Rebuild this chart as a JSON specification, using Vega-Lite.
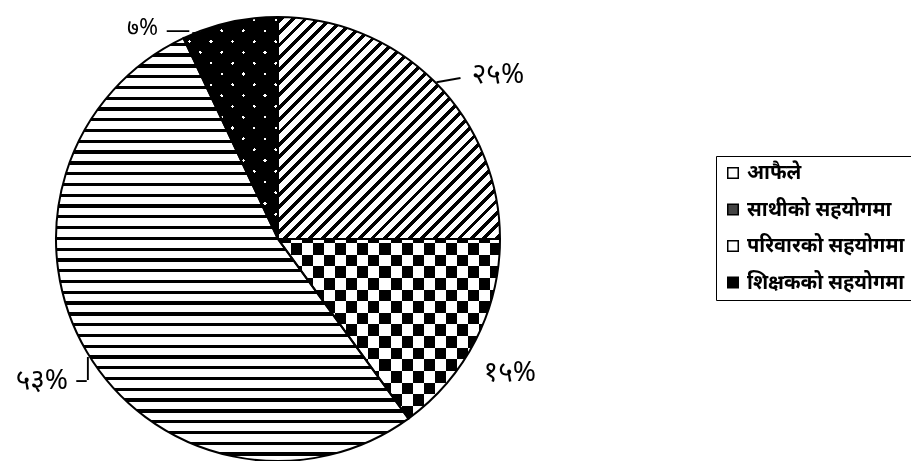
{
  "$schema": "https://vega.github.io/schema/vega-lite/v6.json",
  "autosize": "none",
  "width": 444,
  "height": 444,
  "padding": {"left": 56, "top": 17, "right": 411, "bottom": 0},
  "background": "white",
  "config": {"view": {"stroke": null}},
  "data": {"values": [
    {"cat": "आफैले", "value": 25, "label": "२५%", "o": 1},
    {"cat": "साथीको सहयोगमा", "value": 15, "label": "१५%", "o": 2},
    {"cat": "परिवारको सहयोगमा", "value": 53, "label": "५३%", "o": 3},
    {"cat": "शिक्षकको सहयोगमा", "value": 7, "label": "७%", "o": 4}
  ]},
  "encoding": {
    "theta": {"field": "value", "type": "quantitative", "stack": true},
    "order": {"field": "o", "type": "quantitative"}
  },
  "layer": [
    {
      "mark": {"type": "arc", "outerRadius": 222},
      "encoding": {
        "color": {"field": "cat", "type": "nominal",
          "scale": {"domain": ["आफैले", "साथीको सहयोगमा", "परिवारको सहयोगमा", "शिक्षकको सहयोगमा"], "range": ["#ffffff", "#444444", "#ffffff", "#000000"]},
          "legend": {"orient": "none", "legendX": 660, "legendY": 139, "title": null, "strokeColor": "black", "fillColor": "white", "padding": 7,
            "symbolType": "square", "symbolSize": 110, "symbolStrokeColor": "black", "symbolStrokeWidth": 1.5, "symbolOpacity": 1,
            "labelFont": "Noto Sans", "labelFontSize": 20, "labelFontWeight": "bold", "labelColor": "black", "rowPadding": 16.5, "labelOffset": 4, "labelLimit": 400,
            "labelExpr": "datum.label + '            \u200b'"}
        }
      }
    },
    {
      "mark": {"type": "arc", "outerRadius": 222, "strokeWidth": 0},
      "encoding": {
        "fill": {
          "condition": [
            {"test": "datum.o === 1", "value": {"gradient": "linear", "x1": 0, "y1": 0, "x2": 1, "y2": 1, "stops": [
              {"offset":0.005,"color":"#fff"},{"offset":0.005,"color":"#000"},{"offset":0.016,"color":"#000"},{"offset":0.016,"color":"#fff"},
              {"offset":0.033,"color":"#fff"},{"offset":0.033,"color":"#000"},{"offset":0.044,"color":"#000"},{"offset":0.044,"color":"#fff"},
              {"offset":0.061,"color":"#fff"},{"offset":0.061,"color":"#000"},{"offset":0.072,"color":"#000"},{"offset":0.072,"color":"#fff"},
              {"offset":0.089,"color":"#fff"},{"offset":0.089,"color":"#000"},{"offset":0.1,"color":"#000"},{"offset":0.1,"color":"#fff"},
              {"offset":0.117,"color":"#fff"},{"offset":0.117,"color":"#000"},{"offset":0.128,"color":"#000"},{"offset":0.128,"color":"#fff"},
              {"offset":0.145,"color":"#fff"},{"offset":0.145,"color":"#000"},{"offset":0.156,"color":"#000"},{"offset":0.156,"color":"#fff"},
              {"offset":0.173,"color":"#fff"},{"offset":0.173,"color":"#000"},{"offset":0.184,"color":"#000"},{"offset":0.184,"color":"#fff"},
              {"offset":0.201,"color":"#fff"},{"offset":0.201,"color":"#000"},{"offset":0.212,"color":"#000"},{"offset":0.212,"color":"#fff"},
              {"offset":0.229,"color":"#fff"},{"offset":0.229,"color":"#000"},{"offset":0.24,"color":"#000"},{"offset":0.24,"color":"#fff"},
              {"offset":0.257,"color":"#fff"},{"offset":0.257,"color":"#000"},{"offset":0.268,"color":"#000"},{"offset":0.268,"color":"#fff"},
              {"offset":0.285,"color":"#fff"},{"offset":0.285,"color":"#000"},{"offset":0.296,"color":"#000"},{"offset":0.296,"color":"#fff"},
              {"offset":0.313,"color":"#fff"},{"offset":0.313,"color":"#000"},{"offset":0.324,"color":"#000"},{"offset":0.324,"color":"#fff"},
              {"offset":0.341,"color":"#fff"},{"offset":0.341,"color":"#000"},{"offset":0.352,"color":"#000"},{"offset":0.352,"color":"#fff"},
              {"offset":0.369,"color":"#fff"},{"offset":0.369,"color":"#000"},{"offset":0.38,"color":"#000"},{"offset":0.38,"color":"#fff"},
              {"offset":0.397,"color":"#fff"},{"offset":0.397,"color":"#000"},{"offset":0.408,"color":"#000"},{"offset":0.408,"color":"#fff"},
              {"offset":0.425,"color":"#fff"},{"offset":0.425,"color":"#000"},{"offset":0.436,"color":"#000"},{"offset":0.436,"color":"#fff"},
              {"offset":0.453,"color":"#fff"},{"offset":0.453,"color":"#000"},{"offset":0.464,"color":"#000"},{"offset":0.464,"color":"#fff"},
              {"offset":0.481,"color":"#fff"},{"offset":0.481,"color":"#000"},{"offset":0.492,"color":"#000"},{"offset":0.492,"color":"#fff"},
              {"offset":0.509,"color":"#fff"},{"offset":0.509,"color":"#000"},{"offset":0.52,"color":"#000"},{"offset":0.52,"color":"#fff"},
              {"offset":0.537,"color":"#fff"},{"offset":0.537,"color":"#000"},{"offset":0.548,"color":"#000"},{"offset":0.548,"color":"#fff"},
              {"offset":0.565,"color":"#fff"},{"offset":0.565,"color":"#000"},{"offset":0.576,"color":"#000"},{"offset":0.576,"color":"#fff"},
              {"offset":0.593,"color":"#fff"},{"offset":0.593,"color":"#000"},{"offset":0.604,"color":"#000"},{"offset":0.604,"color":"#fff"},
              {"offset":0.621,"color":"#fff"},{"offset":0.621,"color":"#000"},{"offset":0.632,"color":"#000"},{"offset":0.632,"color":"#fff"},
              {"offset":0.649,"color":"#fff"},{"offset":0.649,"color":"#000"},{"offset":0.66,"color":"#000"},{"offset":0.66,"color":"#fff"},
              {"offset":0.677,"color":"#fff"},{"offset":0.677,"color":"#000"},{"offset":0.688,"color":"#000"},{"offset":0.688,"color":"#fff"},
              {"offset":0.705,"color":"#fff"},{"offset":0.705,"color":"#000"},{"offset":0.716,"color":"#000"},{"offset":0.716,"color":"#fff"},
              {"offset":0.733,"color":"#fff"},{"offset":0.733,"color":"#000"},{"offset":0.744,"color":"#000"},{"offset":0.744,"color":"#fff"},
              {"offset":0.761,"color":"#fff"},{"offset":0.761,"color":"#000"},{"offset":0.772,"color":"#000"},{"offset":0.772,"color":"#fff"},
              {"offset":0.789,"color":"#fff"},{"offset":0.789,"color":"#000"},{"offset":0.8,"color":"#000"},{"offset":0.8,"color":"#fff"},
              {"offset":0.817,"color":"#fff"},{"offset":0.817,"color":"#000"},{"offset":0.828,"color":"#000"},{"offset":0.828,"color":"#fff"},
              {"offset":0.845,"color":"#fff"},{"offset":0.845,"color":"#000"},{"offset":0.856,"color":"#000"},{"offset":0.856,"color":"#fff"},
              {"offset":0.873,"color":"#fff"},{"offset":0.873,"color":"#000"},{"offset":0.884,"color":"#000"},{"offset":0.884,"color":"#fff"},
              {"offset":0.901,"color":"#fff"},{"offset":0.901,"color":"#000"},{"offset":0.912,"color":"#000"},{"offset":0.912,"color":"#fff"},
              {"offset":0.929,"color":"#fff"},{"offset":0.929,"color":"#000"},{"offset":0.94,"color":"#000"},{"offset":0.94,"color":"#fff"},
              {"offset":0.957,"color":"#fff"},{"offset":0.957,"color":"#000"},{"offset":0.968,"color":"#000"},{"offset":0.968,"color":"#fff"},
              {"offset":0.985,"color":"#fff"},{"offset":0.985,"color":"#000"},{"offset":0.996,"color":"#000"},{"offset":0.996,"color":"#fff"}
            ]}},
            {"test": "datum.o === 2", "value": {"gradient": "linear", "x1": 0, "y1": 0, "x2": 1, "y2": 0, "stops": [
              {"offset":0.007,"color":"#fff"},{"offset":0.007,"color":"#000"},{"offset":0.057,"color":"#000"},{"offset":0.057,"color":"#fff"},
              {"offset":0.107,"color":"#fff"},{"offset":0.107,"color":"#000"},{"offset":0.157,"color":"#000"},{"offset":0.157,"color":"#fff"},
              {"offset":0.207,"color":"#fff"},{"offset":0.207,"color":"#000"},{"offset":0.257,"color":"#000"},{"offset":0.257,"color":"#fff"},
              {"offset":0.307,"color":"#fff"},{"offset":0.307,"color":"#000"},{"offset":0.357,"color":"#000"},{"offset":0.357,"color":"#fff"},
              {"offset":0.407,"color":"#fff"},{"offset":0.407,"color":"#000"},{"offset":0.457,"color":"#000"},{"offset":0.457,"color":"#fff"},
              {"offset":0.507,"color":"#fff"},{"offset":0.507,"color":"#000"},{"offset":0.557,"color":"#000"},{"offset":0.557,"color":"#fff"},
              {"offset":0.607,"color":"#fff"},{"offset":0.607,"color":"#000"},{"offset":0.657,"color":"#000"},{"offset":0.657,"color":"#fff"},
              {"offset":0.707,"color":"#fff"},{"offset":0.707,"color":"#000"},{"offset":0.757,"color":"#000"},{"offset":0.757,"color":"#fff"},
              {"offset":0.807,"color":"#fff"},{"offset":0.807,"color":"#000"},{"offset":0.857,"color":"#000"},{"offset":0.857,"color":"#fff"},
              {"offset":0.907,"color":"#fff"},{"offset":0.907,"color":"#000"},{"offset":0.957,"color":"#000"},{"offset":0.957,"color":"#fff"}
            ]}},
            {"test": "datum.o === 3", "value": {"gradient": "linear", "x1": 0, "y1": 0, "x2": 0, "y2": 1, "stops": [
              {"offset":0.0107,"color":"#fff"},{"offset":0.0107,"color":"#000"},{"offset":0.0185,"color":"#000"},{"offset":0.0185,"color":"#fff"},
              {"offset":0.0362,"color":"#fff"},{"offset":0.0362,"color":"#000"},{"offset":0.0440,"color":"#000"},{"offset":0.0440,"color":"#fff"},
              {"offset":0.0617,"color":"#fff"},{"offset":0.0617,"color":"#000"},{"offset":0.0695,"color":"#000"},{"offset":0.0695,"color":"#fff"},
              {"offset":0.0872,"color":"#fff"},{"offset":0.0872,"color":"#000"},{"offset":0.0950,"color":"#000"},{"offset":0.0950,"color":"#fff"},
              {"offset":0.1127,"color":"#fff"},{"offset":0.1127,"color":"#000"},{"offset":0.1205,"color":"#000"},{"offset":0.1205,"color":"#fff"},
              {"offset":0.1382,"color":"#fff"},{"offset":0.1382,"color":"#000"},{"offset":0.1460,"color":"#000"},{"offset":0.1460,"color":"#fff"},
              {"offset":0.1637,"color":"#fff"},{"offset":0.1637,"color":"#000"},{"offset":0.1715,"color":"#000"},{"offset":0.1715,"color":"#fff"},
              {"offset":0.1892,"color":"#fff"},{"offset":0.1892,"color":"#000"},{"offset":0.1970,"color":"#000"},{"offset":0.1970,"color":"#fff"},
              {"offset":0.2147,"color":"#fff"},{"offset":0.2147,"color":"#000"},{"offset":0.2225,"color":"#000"},{"offset":0.2225,"color":"#fff"},
              {"offset":0.2402,"color":"#fff"},{"offset":0.2402,"color":"#000"},{"offset":0.2480,"color":"#000"},{"offset":0.2480,"color":"#fff"},
              {"offset":0.2657,"color":"#fff"},{"offset":0.2657,"color":"#000"},{"offset":0.2735,"color":"#000"},{"offset":0.2735,"color":"#fff"},
              {"offset":0.2912,"color":"#fff"},{"offset":0.2912,"color":"#000"},{"offset":0.2990,"color":"#000"},{"offset":0.2990,"color":"#fff"},
              {"offset":0.3167,"color":"#fff"},{"offset":0.3167,"color":"#000"},{"offset":0.3245,"color":"#000"},{"offset":0.3245,"color":"#fff"},
              {"offset":0.3422,"color":"#fff"},{"offset":0.3422,"color":"#000"},{"offset":0.3500,"color":"#000"},{"offset":0.3500,"color":"#fff"},
              {"offset":0.3677,"color":"#fff"},{"offset":0.3677,"color":"#000"},{"offset":0.3755,"color":"#000"},{"offset":0.3755,"color":"#fff"},
              {"offset":0.3932,"color":"#fff"},{"offset":0.3932,"color":"#000"},{"offset":0.4010,"color":"#000"},{"offset":0.4010,"color":"#fff"},
              {"offset":0.4187,"color":"#fff"},{"offset":0.4187,"color":"#000"},{"offset":0.4265,"color":"#000"},{"offset":0.4265,"color":"#fff"},
              {"offset":0.4442,"color":"#fff"},{"offset":0.4442,"color":"#000"},{"offset":0.4520,"color":"#000"},{"offset":0.4520,"color":"#fff"},
              {"offset":0.4697,"color":"#fff"},{"offset":0.4697,"color":"#000"},{"offset":0.4775,"color":"#000"},{"offset":0.4775,"color":"#fff"},
              {"offset":0.4952,"color":"#fff"},{"offset":0.4952,"color":"#000"},{"offset":0.5030,"color":"#000"},{"offset":0.5030,"color":"#fff"},
              {"offset":0.5207,"color":"#fff"},{"offset":0.5207,"color":"#000"},{"offset":0.5285,"color":"#000"},{"offset":0.5285,"color":"#fff"},
              {"offset":0.5462,"color":"#fff"},{"offset":0.5462,"color":"#000"},{"offset":0.5540,"color":"#000"},{"offset":0.5540,"color":"#fff"},
              {"offset":0.5717,"color":"#fff"},{"offset":0.5717,"color":"#000"},{"offset":0.5795,"color":"#000"},{"offset":0.5795,"color":"#fff"},
              {"offset":0.5972,"color":"#fff"},{"offset":0.5972,"color":"#000"},{"offset":0.6050,"color":"#000"},{"offset":0.6050,"color":"#fff"},
              {"offset":0.6227,"color":"#fff"},{"offset":0.6227,"color":"#000"},{"offset":0.6305,"color":"#000"},{"offset":0.6305,"color":"#fff"},
              {"offset":0.6482,"color":"#fff"},{"offset":0.6482,"color":"#000"},{"offset":0.6560,"color":"#000"},{"offset":0.6560,"color":"#fff"},
              {"offset":0.6737,"color":"#fff"},{"offset":0.6737,"color":"#000"},{"offset":0.6815,"color":"#000"},{"offset":0.6815,"color":"#fff"},
              {"offset":0.6992,"color":"#fff"},{"offset":0.6992,"color":"#000"},{"offset":0.7070,"color":"#000"},{"offset":0.7070,"color":"#fff"},
              {"offset":0.7247,"color":"#fff"},{"offset":0.7247,"color":"#000"},{"offset":0.7325,"color":"#000"},{"offset":0.7325,"color":"#fff"},
              {"offset":0.7502,"color":"#fff"},{"offset":0.7502,"color":"#000"},{"offset":0.7580,"color":"#000"},{"offset":0.7580,"color":"#fff"},
              {"offset":0.7757,"color":"#fff"},{"offset":0.7757,"color":"#000"},{"offset":0.7835,"color":"#000"},{"offset":0.7835,"color":"#fff"},
              {"offset":0.8012,"color":"#fff"},{"offset":0.8012,"color":"#000"},{"offset":0.8090,"color":"#000"},{"offset":0.8090,"color":"#fff"},
              {"offset":0.8267,"color":"#fff"},{"offset":0.8267,"color":"#000"},{"offset":0.8345,"color":"#000"},{"offset":0.8345,"color":"#fff"},
              {"offset":0.8522,"color":"#fff"},{"offset":0.8522,"color":"#000"},{"offset":0.8600,"color":"#000"},{"offset":0.8600,"color":"#fff"},
              {"offset":0.8777,"color":"#fff"},{"offset":0.8777,"color":"#000"},{"offset":0.8855,"color":"#000"},{"offset":0.8855,"color":"#fff"},
              {"offset":0.9032,"color":"#fff"},{"offset":0.9032,"color":"#000"},{"offset":0.9110,"color":"#000"},{"offset":0.9110,"color":"#fff"},
              {"offset":0.9287,"color":"#fff"},{"offset":0.9287,"color":"#000"},{"offset":0.9365,"color":"#000"},{"offset":0.9365,"color":"#fff"},
              {"offset":0.9542,"color":"#fff"},{"offset":0.9542,"color":"#000"},{"offset":0.9620,"color":"#000"},{"offset":0.9620,"color":"#fff"},
              {"offset":0.9797,"color":"#fff"},{"offset":0.9797,"color":"#000"},{"offset":0.9875,"color":"#000"},{"offset":0.9875,"color":"#fff"}
            ]}}
          ],
          "value": {"gradient": "linear", "x1": 0, "y1": 1, "x2": 0.514, "y2": -0.208, "stops": [
            {"offset":0.0225,"color":"#000"},{"offset":0.0225,"color":"#fff"},{"offset":0.0335,"color":"#fff"},{"offset":0.0335,"color":"#000"},
            {"offset":0.0907,"color":"#000"},{"offset":0.0907,"color":"#fff"},{"offset":0.1017,"color":"#fff"},{"offset":0.1017,"color":"#000"},
            {"offset":0.1589,"color":"#000"},{"offset":0.1589,"color":"#fff"},{"offset":0.1699,"color":"#fff"},{"offset":0.1699,"color":"#000"},
            {"offset":0.2271,"color":"#000"},{"offset":0.2271,"color":"#fff"},{"offset":0.2381,"color":"#fff"},{"offset":0.2381,"color":"#000"},
            {"offset":0.2953,"color":"#000"},{"offset":0.2953,"color":"#fff"},{"offset":0.3063,"color":"#fff"},{"offset":0.3063,"color":"#000"},
            {"offset":0.3635,"color":"#000"},{"offset":0.3635,"color":"#fff"},{"offset":0.3745,"color":"#fff"},{"offset":0.3745,"color":"#000"},
            {"offset":0.4317,"color":"#000"},{"offset":0.4317,"color":"#fff"},{"offset":0.4427,"color":"#fff"},{"offset":0.4427,"color":"#000"},
            {"offset":0.4999,"color":"#000"},{"offset":0.4999,"color":"#fff"},{"offset":0.5109,"color":"#fff"},{"offset":0.5109,"color":"#000"},
            {"offset":0.5681,"color":"#000"},{"offset":0.5681,"color":"#fff"},{"offset":0.5791,"color":"#fff"},{"offset":0.5791,"color":"#000"},
            {"offset":0.6363,"color":"#000"},{"offset":0.6363,"color":"#fff"},{"offset":0.6473,"color":"#fff"},{"offset":0.6473,"color":"#000"},
            {"offset":0.7045,"color":"#000"},{"offset":0.7045,"color":"#fff"},{"offset":0.7155,"color":"#fff"},{"offset":0.7155,"color":"#000"},
            {"offset":0.7727,"color":"#000"},{"offset":0.7727,"color":"#fff"},{"offset":0.7837,"color":"#fff"},{"offset":0.7837,"color":"#000"},
            {"offset":0.8409,"color":"#000"},{"offset":0.8409,"color":"#fff"},{"offset":0.8519,"color":"#fff"},{"offset":0.8519,"color":"#000"},
            {"offset":0.9091,"color":"#000"},{"offset":0.9091,"color":"#fff"},{"offset":0.9201,"color":"#fff"},{"offset":0.9201,"color":"#000"},
            {"offset":0.9773,"color":"#000"},{"offset":0.9773,"color":"#fff"},{"offset":0.9883,"color":"#fff"},{"offset":0.9883,"color":"#000"}
          ]}
        }
      }
    },
    {
      "mark": {"type": "arc", "outerRadius": 222, "strokeWidth": 0, "blend": "difference"},
      "encoding": {
        "fill": {
          "condition": {"test": "datum.o === 2", "value": {"gradient": "linear", "x1": 0, "y1": 0, "x2": 0, "y2": 1, "stops": [
            {"offset":0.0238,"color":"rgba(255,255,255,0)"},{"offset":0.0238,"color":"#fff"},{"offset":0.0884,"color":"#fff"},{"offset":0.0884,"color":"rgba(255,255,255,0)"},
            {"offset":0.1530,"color":"rgba(255,255,255,0)"},{"offset":0.1530,"color":"#fff"},{"offset":0.2176,"color":"#fff"},{"offset":0.2176,"color":"rgba(255,255,255,0)"},
            {"offset":0.2822,"color":"rgba(255,255,255,0)"},{"offset":0.2822,"color":"#fff"},{"offset":0.3468,"color":"#fff"},{"offset":0.3468,"color":"rgba(255,255,255,0)"},
            {"offset":0.4114,"color":"rgba(255,255,255,0)"},{"offset":0.4114,"color":"#fff"},{"offset":0.4760,"color":"#fff"},{"offset":0.4760,"color":"rgba(255,255,255,0)"},
            {"offset":0.5406,"color":"rgba(255,255,255,0)"},{"offset":0.5406,"color":"#fff"},{"offset":0.6052,"color":"#fff"},{"offset":0.6052,"color":"rgba(255,255,255,0)"},
            {"offset":0.6698,"color":"rgba(255,255,255,0)"},{"offset":0.6698,"color":"#fff"},{"offset":0.7344,"color":"#fff"},{"offset":0.7344,"color":"rgba(255,255,255,0)"},
            {"offset":0.7990,"color":"rgba(255,255,255,0)"},{"offset":0.7990,"color":"#fff"},{"offset":0.8636,"color":"#fff"},{"offset":0.8636,"color":"rgba(255,255,255,0)"},
            {"offset":0.9282,"color":"rgba(255,255,255,0)"},{"offset":0.9282,"color":"#fff"},{"offset":0.9928,"color":"#fff"},{"offset":0.9928,"color":"rgba(255,255,255,0)"}
          ]}},
          "value": "transparent"
        }
      }
    },
    {
      "mark": {"type": "arc", "outerRadius": 222, "strokeWidth": 0},
      "encoding": {
        "fill": {
          "condition": {"test": "datum.o === 4", "value": {"gradient": "linear", "x1": 0, "y1": 0, "x2": 0.514, "y2": 1.208, "stops": [
            {"offset":0.0225,"color":"#000"},{"offset":0.0225,"color":"rgba(0,0,0,0)"},{"offset":0.0335,"color":"rgba(0,0,0,0)"},{"offset":0.0335,"color":"#000"},
            {"offset":0.0907,"color":"#000"},{"offset":0.0907,"color":"rgba(0,0,0,0)"},{"offset":0.1017,"color":"rgba(0,0,0,0)"},{"offset":0.1017,"color":"#000"},
            {"offset":0.1589,"color":"#000"},{"offset":0.1589,"color":"rgba(0,0,0,0)"},{"offset":0.1699,"color":"rgba(0,0,0,0)"},{"offset":0.1699,"color":"#000"},
            {"offset":0.2271,"color":"#000"},{"offset":0.2271,"color":"rgba(0,0,0,0)"},{"offset":0.2381,"color":"rgba(0,0,0,0)"},{"offset":0.2381,"color":"#000"},
            {"offset":0.2953,"color":"#000"},{"offset":0.2953,"color":"rgba(0,0,0,0)"},{"offset":0.3063,"color":"rgba(0,0,0,0)"},{"offset":0.3063,"color":"#000"},
            {"offset":0.3635,"color":"#000"},{"offset":0.3635,"color":"rgba(0,0,0,0)"},{"offset":0.3745,"color":"rgba(0,0,0,0)"},{"offset":0.3745,"color":"#000"},
            {"offset":0.4317,"color":"#000"},{"offset":0.4317,"color":"rgba(0,0,0,0)"},{"offset":0.4427,"color":"rgba(0,0,0,0)"},{"offset":0.4427,"color":"#000"},
            {"offset":0.4999,"color":"#000"},{"offset":0.4999,"color":"rgba(0,0,0,0)"},{"offset":0.5109,"color":"rgba(0,0,0,0)"},{"offset":0.5109,"color":"#000"},
            {"offset":0.5681,"color":"#000"},{"offset":0.5681,"color":"rgba(0,0,0,0)"},{"offset":0.5791,"color":"rgba(0,0,0,0)"},{"offset":0.5791,"color":"#000"},
            {"offset":0.6363,"color":"#000"},{"offset":0.6363,"color":"rgba(0,0,0,0)"},{"offset":0.6473,"color":"rgba(0,0,0,0)"},{"offset":0.6473,"color":"#000"},
            {"offset":0.7045,"color":"#000"},{"offset":0.7045,"color":"rgba(0,0,0,0)"},{"offset":0.7155,"color":"rgba(0,0,0,0)"},{"offset":0.7155,"color":"#000"},
            {"offset":0.7727,"color":"#000"},{"offset":0.7727,"color":"rgba(0,0,0,0)"},{"offset":0.7837,"color":"rgba(0,0,0,0)"},{"offset":0.7837,"color":"#000"},
            {"offset":0.8409,"color":"#000"},{"offset":0.8409,"color":"rgba(0,0,0,0)"},{"offset":0.8519,"color":"rgba(0,0,0,0)"},{"offset":0.8519,"color":"#000"},
            {"offset":0.9091,"color":"#000"},{"offset":0.9091,"color":"rgba(0,0,0,0)"},{"offset":0.9201,"color":"rgba(0,0,0,0)"},{"offset":0.9201,"color":"#000"},
            {"offset":0.9773,"color":"#000"},{"offset":0.9773,"color":"rgba(0,0,0,0)"},{"offset":0.9883,"color":"rgba(0,0,0,0)"},{"offset":0.9883,"color":"#000"}
          ]}},
          "value": "transparent"
        }
      }
    },
    {
      "mark": {"type": "arc", "outerRadius": 222, "fillOpacity": 0, "stroke": "black", "strokeWidth": 2}
    },
    {
      "mark": {"type": "text", "radius": 222, "dx": 63, "dy": -7, "fontSize": 28, "font": "Noto Sans", "color": "black"},
      "encoding": {"text": {"condition": {"test": "datum.o === 1", "field": "label"}, "value": ""}}
    },
    {
      "mark": {"type": "text", "radius": 222, "dx": 34, "dy": 33, "fontSize": 28, "font": "Noto Sans", "color": "black"},
      "encoding": {"text": {"condition": {"test": "datum.o === 2", "field": "label"}, "value": ""}}
    },
    {
      "mark": {"type": "text", "radius": 222, "dx": -45, "dy": 29, "fontSize": 28, "font": "Noto Sans", "color": "black"},
      "encoding": {"text": {"condition": {"test": "datum.o === 3", "field": "label"}, "value": ""}}
    },
    {
      "mark": {"type": "text", "radius": 222, "dx": -87, "dy": 6, "fontSize": 23, "font": "Noto Sans", "color": "black"},
      "encoding": {"text": {"condition": {"test": "datum.o === 4", "field": "label"}, "value": ""}}
    },
    {
      "mark": {"type": "text", "radius": 222, "angle": -10, "dx": 13.7, "dy": 0, "fontSize": 27, "font": "DejaVu Sans", "color": "black"},
      "encoding": {"text": {"condition": {"test": "datum.o === 1", "value": "—"}, "value": ""}}
    },
    {
      "mark": {"type": "text", "radius": 222, "dx": 1, "dy": 15.5, "fontSize": 23, "font": "DejaVu Sans", "color": "black"},
      "encoding": {"text": {"condition": {"test": "datum.o === 3", "value": "|"}, "value": ""}}
    },
    {
      "mark": {"type": "text", "radius": 222, "dx": -5.5, "dy": 28, "fontSize": 26, "font": "DejaVu Sans", "color": "black"},
      "encoding": {"text": {"condition": {"test": "datum.o === 3", "value": "–"}, "value": ""}}
    },
    {
      "mark": {"type": "text", "radius": 222, "dx": -51.6, "dy": 7.7, "fontSize": 25, "font": "DejaVu Sans", "color": "black"},
      "encoding": {"text": {"condition": {"test": "datum.o === 4", "value": "—"}, "value": ""}}
    },
    {
      "mark": {"type": "text", "radius": 222, "angle": -6, "dx": -27, "dy": 5.5, "fontSize": 25, "font": "DejaVu Sans", "color": "black"},
      "encoding": {"text": {"condition": {"test": "datum.o === 4", "value": "—"}, "value": ""}}
    }
  ]
}
